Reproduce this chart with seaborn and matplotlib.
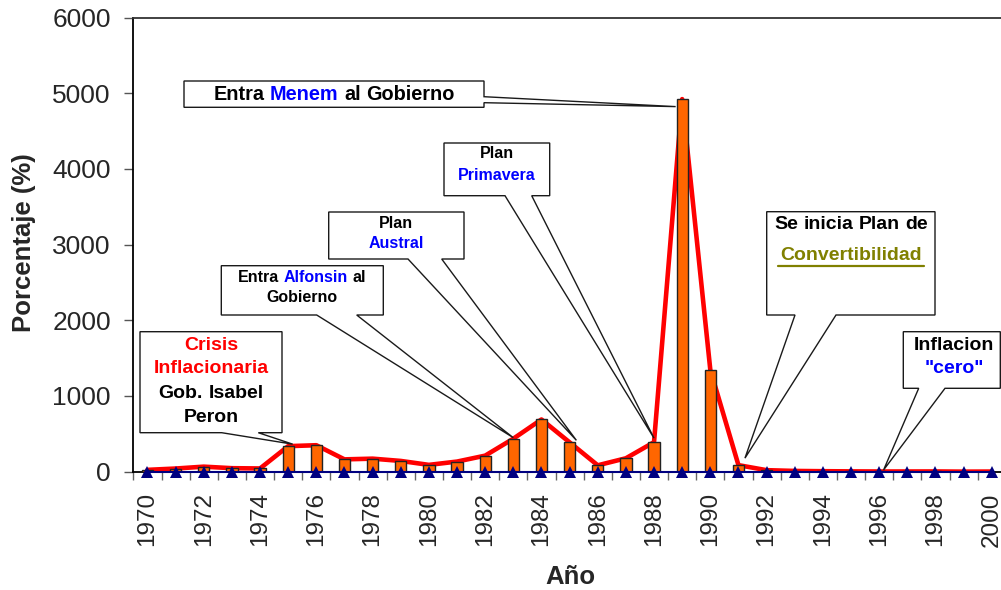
import numpy as np
import pandas as pd
import matplotlib
matplotlib.use("Agg")
import matplotlib.pyplot as plt
import seaborn as sns
from matplotlib.offsetbox import TextArea, HPacker, AnnotationBbox
from matplotlib.patches import Polygon
from matplotlib.lines import Line2D
from matplotlib.transforms import Affine2D

# ---------------- data ----------------
years = list(range(1970, 2001))
inflation = [21.7, 39.2, 64.1, 43.8, 40.1, 335.0, 347.5, 160.4, 169.8, 139.7,
             87.6, 131.2, 209.7, 433.7, 688.0, 385.4, 81.9, 174.8, 387.7, 4923.6,
             1343.9, 84.0, 17.5, 7.4, 3.9, 1.6, 0.1, 0.3, 0.7, -1.8, -0.7]
baseline = [0.0] * len(years)
tick_labels = [str(y) if y % 2 == 0 else "" for y in years]
y_ticks = [0, 1000, 2000, 3000, 4000, 5000, 6000]

sns.set_style("ticks")
plt.rcParams["font.family"] = ["Liberation Sans", "DejaVu Sans"]

W, H = 1001, 590
fig = plt.figure(figsize=(W / 100, H / 100), dpi=100)
L, R, T, B = 133.4, 1005.8, 17.7, 471.5
ax = fig.add_axes([L / W, (H - B) / H, (R - L) / W, (B - T) / H])

df = pd.DataFrame({"year": [str(y) for y in years],
                   "inflation": inflation, "base": baseline})

sns.pointplot(data=df, x="year", y="inflation", color="#FF0000", markers="",
              linestyles="-", linewidth=3.3, errorbar=None, ax=ax)
n_red = len(ax.lines)
sns.barplot(data=df, x="year", y="inflation", color="#FF6600", width=0.4,
            edgecolor="#222222", linewidth=1.0, saturation=1, errorbar=None, ax=ax)
n_before = len(ax.lines)
sns.pointplot(data=df, x="year", y="base", color="#000080", markers="^",
              linestyles="-", linewidth=1.5, errorbar=None, ax=ax)

for p in ax.patches:
    p.set_zorder(3)
for ln in ax.lines[:n_red]:
    ln.set_zorder(2)
    ln.set_solid_joinstyle("round")
for ln in ax.lines[n_before:]:
    ln.set_zorder(5)
    ln.set_clip_on(False)
    ln.set_markersize(8.5)
    ln.set_markeredgewidth(0)
    ln.set_linewidth(1.5)

ax.set_xlim(-0.5, len(years) - 0.5)
ax.set_ylim(0, 6000)
ax.set_xlabel("")
ax.set_ylabel("")
ax.set_xticks(range(len(years)))
ax.set_xticklabels(tick_labels, rotation=90, fontsize=17.5)
ax.set_xticks(np.arange(-0.5, len(years), 1.0), minor=True)
ax.tick_params(axis="x", which="major", length=0, pad=15, bottom=True)
ax.tick_params(axis="x", which="minor", length=6, width=1, color="#666666",
               direction="out", bottom=True)
ax.set_yticks(y_ticks)
ax.set_yticklabels([str(v) for v in y_ticks], fontsize=19)
ax.tick_params(axis="y", length=6.3, width=1, color="#555555", pad=10, left=True)
for s in ["left", "bottom"]:
    ax.spines[s].set_color("#000000")
    ax.spines[s].set_linewidth(1.3)
ax.spines["top"].set_visible(True)
ax.spines["top"].set_color("#333333")
ax.spines["top"].set_linewidth(1.3)
ax.spines["right"].set_visible(True)

fig.text(23.8 / W, 1 - 243 / H, "Porcentaje (%)", rotation=90, ha="center",
         va="center", fontsize=18.5, fontweight="bold")
fig.text(570 / W, 1 - 577 / H, "Año", ha="center", va="center",
         fontsize=18.5, fontweight="bold")

# ---------------- callouts ----------------
pix = Affine2D().scale(1, -1).translate(0, H)   # pixel coords measured from top


def data_px(i, v):
    x, y = ax.transData.transform((i, v))
    return x, H - y


def callout(box, base, tip, side="bottom"):
    x0, y0, x1, y1 = box
    if side == "bottom":
        verts = [(x0, y0), (x1, y0), (x1, y1), (base[1], y1), tip,
                 (base[0], y1), (x0, y1)]
    else:  # right
        verts = [(x0, y0), (x1, y0), (x1, base[0]), tip, (x1, base[1]),
                 (x1, y1), (x0, y1)]
    poly = Polygon(verts, closed=True, fc="white", ec="#1a1a1a", lw=1.0,
                   transform=pix, zorder=10, joinstyle="miter")
    fig.add_artist(poly)


def text_line(cx, cy, parts, fs):
    kids = [TextArea(t, textprops=dict(color=c, fontsize=fs, fontweight="bold"))
            for t, c in parts]
    pack = HPacker(children=kids, pad=0, sep=0.278 * fs, align="baseline")
    ab = AnnotationBbox(pack, (cx, cy), xycoords=pix, frameon=False,
                        box_alignment=(0.5, 0.5), zorder=11, pad=0)
    fig.add_artist(ab)


K, BL, RD, OL = "#000000", "#0000FF", "#FF0000", "#808000"
idx = {y: i for i, y in enumerate(years)}


def tip_of(year, dx, dy):
    x, y = data_px(idx[year], inflation[idx[year]])
    return (x + dx, y + dy)


# Entra Menem al Gobierno
callout((184, 81, 484, 107.3), (96.7, 102.7), tip_of(1989, -6.5, 7.5), side="right")
text_line(334, 94, [("Entra", K), ("Menem", BL), ("al", K), ("Gobierno", K)], 14.3)

# Plan Primavera
callout((444, 143, 549.7, 195.7), (505, 531.7), tip_of(1988, 0, -4))
text_line(497, 153.5, [("Plan", K)], 11.5)
text_line(497, 175, [("Primavera", BL)], 11.5)

# Plan Austral
callout((328.7, 212, 464, 259), (408, 441.7), tip_of(1985, 6.8, -2))
text_line(396, 223, [("Plan", K)], 11.5)
text_line(396, 243.5, [("Austral", BL)], 11.5)

# Entra Alfonsin al Gobierno
callout((221.3, 265.7, 383.3, 315), (316.7, 356.7), tip_of(1983, 0, -1))
text_line(302.3, 277, [("Entra", K), ("Alfonsin", BL), ("al", K)], 11.5)
text_line(302.3, 297.5, [("Gobierno", K)], 11.5)

# Crisis Inflacionaria
callout((140, 331.7, 282, 432.7), (221.7, 258.3), tip_of(1975, 4.5, -2))
text_line(211, 345, [("Crisis", RD)], 14)
text_line(211, 368.5, [("Inflacionaria", RD)], 14)
text_line(211, 393.5, [("Gob.", K), ("Isabel", K)], 14)
text_line(211, 418, [("Peron", K)], 14)

# Se inicia Plan de Convertibilidad
callout((766.7, 211.7, 935, 315), (795, 836), tip_of(1991, 6.5, -7))
text_line(850.8, 224.5, [("Se", K), ("inicia", K), ("Plan", K), ("de", K)], 14)
text_line(850.8, 255, [("Convertibilidad", OL)], 14)
fig.add_artist(Line2D([778.3, 924], [265.5, 265.5], transform=pix, color=OL,
                      lw=1.6, zorder=11))

# Inflacion "cero"
callout((903.3, 331.7, 1000.3, 388.3), (918.7, 945), tip_of(1996, 4.4, -1.5))
text_line(954, 345.5, [("Inflacion", K)], 14)
text_line(954, 368.5, [('"cero"', BL)], 14)

fig.savefig("out.png", dpi=100)
